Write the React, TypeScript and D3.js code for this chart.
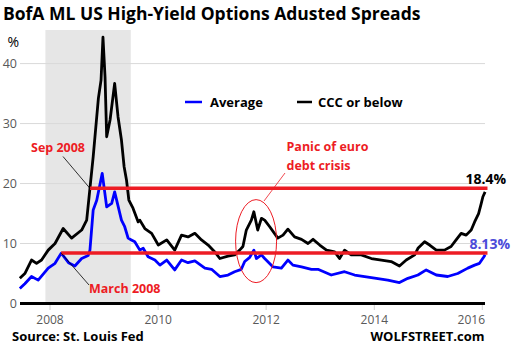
import React from 'react';
import * as d3 from 'd3';

// BofA ML US High-Yield OAS (%)
const avgDates = [
  '2007-06-11', '2007-07-15', '2007-08-29', '2007-10-13', '2007-12-20', '2008-02-04', '2008-03-17',
  '2008-05-05', '2008-06-17', '2008-08-02', '2008-09-15', '2008-09-27', '2008-10-19', '2008-11-12',
  '2008-12-19', '2009-01-18', '2009-02-21', '2009-03-13', '2009-04-28', '2009-05-20', '2009-06-12',
  '2009-07-04', '2009-07-27', '2009-08-30', '2009-09-22', '2009-10-25', '2009-12-10', '2010-01-13',
  '2010-02-28', '2010-04-23', '2010-06-08', '2010-07-22', '2010-09-06', '2010-11-13', '2010-12-28',
  '2011-02-22', '2011-04-18', '2011-06-02', '2011-07-17', '2011-08-09', '2011-09-12', '2011-10-10',
  '2011-10-27', '2011-11-30', '2011-12-22', '2012-02-17', '2012-04-13', '2012-05-27', '2012-06-30',
  '2012-08-27', '2012-11-02', '2012-12-16', '2013-03-16', '2013-06-14', '2013-08-21', '2013-12-12',
  '2014-04-02', '2014-06-20', '2014-08-16', '2014-10-23', '2014-12-18', '2015-02-24', '2015-05-12',
  '2015-07-19', '2015-09-25', '2015-11-10', '2015-12-13', '2016-01-12', '2016-01-20',
];
const avgValues = [
  2.5, 3.3, 4.5, 3.9, 5.9, 6.7, 8.4,
  6.8, 6.25, 7.5, 8.0, 8.9, 15.6, 17.2,
  21.7, 16.1, 16.7, 18.6, 13.9, 12.8, 10.9,
  10.6, 10.3, 8.9, 9.2, 7.8, 7.25, 6.4,
  7.25, 5.6, 7.25, 6.8, 7.1, 5.9, 5.7,
  4.5, 4.75, 5.3, 5.7, 7.0, 7.7, 8.9,
  7.5, 8.1, 7.5, 6.1, 5.9, 7.25, 6.4,
  6.1, 5.7, 5.7, 4.75, 5.3, 4.75, 4.3,
  3.9, 3.5, 4.2, 4.75, 5.6, 4.75, 4.5,
  5.0, 5.9, 6.4, 6.7, 7.8, 8.13,
];

const cccDates = [
  '2007-06-11', '2007-07-15', '2007-08-29', '2007-10-02', '2007-11-05', '2007-12-20', '2008-02-04',
  '2008-03-30', '2008-05-26', '2008-08-02', '2008-09-05', '2008-09-27', '2008-10-19', '2008-11-23',
  '2008-12-11', '2008-12-24', '2009-01-07', '2009-01-18', '2009-02-10', '2009-03-13', '2009-04-05',
  '2009-04-28', '2009-05-16', '2009-06-01', '2009-06-17', '2009-07-15', '2009-08-19', '2009-08-30',
  '2009-10-03', '2009-11-18', '2010-01-02', '2010-02-28', '2010-04-23', '2010-06-08', '2010-07-22',
  '2010-09-06', '2010-10-21', '2010-12-05', '2011-01-19', '2011-02-22', '2011-04-18', '2011-06-02',
  '2011-07-06', '2011-07-28', '2011-08-20', '2011-09-23', '2011-10-10', '2011-11-05', '2011-11-30',
  '2011-12-22', '2012-01-25', '2012-03-20', '2012-04-24', '2012-05-27', '2012-07-11', '2012-08-27',
  '2012-10-10', '2012-11-13', '2012-12-28', '2013-02-12', '2013-04-08', '2013-05-11', '2013-06-14',
  '2013-07-29', '2013-10-05', '2013-12-12', '2014-02-18', '2014-04-25', '2014-06-20', '2014-08-05',
  '2014-10-01', '2014-10-23', '2014-12-07', '2015-01-10', '2015-02-24', '2015-04-20', '2015-06-04',
  '2015-07-08', '2015-08-11', '2015-09-14', '2015-10-18', '2015-11-10', '2015-12-07', '2015-12-25',
  '2016-01-05', '2016-01-20',
];
const cccValues = [
  4.2, 5.0, 7.25, 6.7, 7.25, 8.9, 10.0,
  12.5, 10.9, 12.25, 13.9, 19.2, 24.5, 34.2,
  37.25, 44.4, 37.8, 27.8, 30.6, 36.7, 31.1,
  27.25, 22.8, 20.6, 17.25, 15.9, 13.6, 13.9,
  12.5, 11.7, 9.75, 10.6, 8.9, 11.4, 11.1,
  11.7, 10.6, 9.75, 8.6, 7.5, 7.9, 8.1,
  8.9, 9.5, 12.25, 13.9, 15.3, 12.25, 14.2,
  13.9, 12.8, 10.9, 11.4, 12.4, 11.1, 10.7,
  10.0, 10.7, 9.75, 8.9, 8.6, 7.5, 8.9,
  8.1, 8.1, 7.5, 7.25, 7.0, 6.25, 7.25,
  8.1, 9.2, 10.3, 9.75, 8.9, 8.9, 9.5,
  10.6, 11.7, 11.4, 12.25, 13.6, 15.0, 16.7,
  17.8, 18.6,
];

const yTicks = [0, 10, 20, 30, 40];
const xTickYears = [2008, 2010, 2012, 2014, 2016];
const recession = ['2007-12-01', '2009-06-30'];
// red reference levels: [start date, level]
const refLines: [string, number][] = [['2008-09-27', 19.2], ['2008-03-17', 8.4]];
const refEnd = '2016-02-05';

const parse = d3.timeParse('%Y-%m-%d');
const avg = avgDates.map((d, i) => ({ date: parse(d)!, value: avgValues[i] }));
const ccc = cccDates.map((d, i) => ({ date: parse(d)!, value: cccValues[i] }));

const FONT = '"Open Sans", "DejaVu Sans", sans-serif';
const RED = '#ed1c24';

export default function App() {
  const x = d3.scaleTime()
    .domain([new Date(2008, 0, 1), new Date(2016, 0, 1)])
    .range([50, 482.3]);
  const y = d3.scaleLinear().domain([0, 45.6]).range([303.5, 30]);
  const left = 20;
  const right = 485;

  const line = d3.line<{ date: Date; value: number }>()
    .x(d => x(d.date))
    .y(d => y(d.value))
    .curve(d3.curveLinear);

  const ell = { cx: x(parse('2011-10-25')!), cy: y(10.4) };

  return (
    <svg width={512} height={350} style={{ position: 'absolute', left: 0, top: 0, background: '#fff' }}
      fontFamily={FONT}>
      <text x={3} y={20} fontSize={17.5} fontWeight="bold" fill="#000">
        BofA ML US High-Yield Options Adusted Spreads
      </text>

      {/* recession shading */}
      <rect x={x(parse(recession[0])!)} y={30}
        width={x(parse(recession[1])!) - x(parse(recession[0])!)} height={y(0) - 30} fill="#e6e6e6" />

      {/* gridlines */}
      {yTicks.filter(t => t > 0).map(t => (
        <line key={t} x1={left} x2={right} y1={y(t)} y2={y(t)} stroke="#d9d9d9" strokeWidth={1} />
      ))}
      {yTicks.map(t => (
        <text key={t} x={17} y={y(t) + 4.5} fontSize={12.5} textAnchor="end" fill="#595959">{t}</text>
      ))}
      <text x={7.5} y={46.5} fontSize={14} fill="#000">%</text>

      {/* x axis */}
      {xTickYears.map((yr, i) => {
        const tx = x(new Date(yr, 0, 1));
        const last = i === xTickYears.length - 1;
        return (
          <g key={yr}>
            <line x1={tx} x2={tx} y1={304} y2={310} stroke="#d0d0d0" strokeWidth={1} />
            <text x={last ? right : tx} y={324} fontSize={12} textAnchor={last ? 'end' : 'middle'} fill="#595959">
              {yr}
            </text>
          </g>
        );
      })}
      <line x1={left} x2={right} y1={y(0)} y2={y(0)} stroke="#000" strokeWidth={3} />

      {/* series */}
      <path d={line(ccc) || ''} fill="none" stroke="#000" strokeWidth={2.8} strokeLinejoin="round" />
      <path d={line(avg) || ''} fill="none" stroke="#0000ff" strokeWidth={2.8} strokeLinejoin="round" />

      {/* red reference lines */}
      {refLines.map(([d, v]) => (
        <line key={v} x1={x(parse(d)!)} x2={x(parse(refEnd)!)} y1={y(v)} y2={y(v)} stroke={RED} strokeWidth={3.5} />
      ))}

      {/* legend */}
      <line x1={185} x2={202} y1={102} y2={102} stroke="#0000ff" strokeWidth={2.5} />
      <text x={210} y={106.5} fontSize={13} fontWeight="bold" fill="#000">Average</text>
      <line x1={297} x2={312} y1={102} y2={102} stroke="#000" strokeWidth={2.5} />
      <text x={318} y={106.5} fontSize={13} fontWeight="bold" fill="#000">CCC or below</text>

      {/* annotations */}
      <text x={31} y={151.5} fontSize={12.5} fontWeight="bold" fill={RED}>Sep 2008</text>
      <line x1={63} y1={156.5} x2={x(parse(refLines[0][0])!)} y2={y(refLines[0][1])} stroke="#000" strokeWidth={0.8} />
      <text x={89} y={292.5} fontSize={12.5} fontWeight="bold" fill={RED}>March 2008</text>
      <line x1={x(parse(refLines[1][0])!)} y1={y(refLines[1][1])} x2={89} y2={285} stroke="#000" strokeWidth={0.8} />

      <ellipse cx={ell.cx} cy={ell.cy} rx={20.5} ry={41.5} fill="none" stroke={RED} strokeWidth={1} />
      <line x1={285} y1={173} x2={264} y2={201} stroke={RED} strokeWidth={0.8} />
      <text x={286.5} y={151} fontSize={12.5} fontWeight="bold" fill={RED}>Panic of euro</text>
      <text x={286.5} y={169.5} fontSize={12.5} fontWeight="bold" fill={RED}>debt crisis</text>

      <text x={506} y={183.5} fontSize={14} fontWeight="bold" textAnchor="end" fill="#000">18.4%</text>
      <text x={510} y={249} fontSize={14} fontWeight="bold" textAnchor="end" fill="#4b4bd9">8.13%</text>

      <text x={12} y={341} fontSize={13} fontWeight="bold" fill="#000">Source: St. Louis Fed</text>
      <text x={484.5} y={341} fontSize={13} fontWeight="bold" textAnchor="end" fill="#000">WOLFSTREET.com</text>
    </svg>
  );
}
